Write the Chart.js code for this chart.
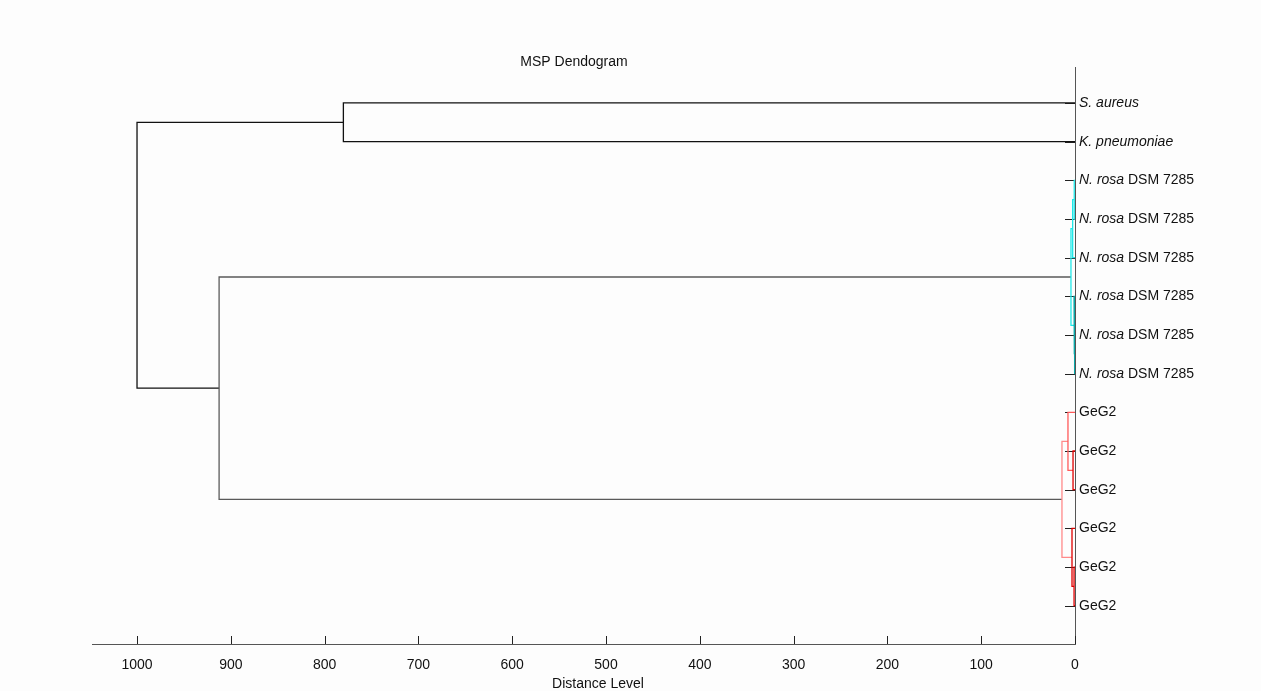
<!DOCTYPE html>
<html>
<head>
<meta charset="utf-8">
<script src="https://cdn.jsdelivr.net/npm/chart.js@4.4.1/dist/chart.umd.min.js"></script>
<style>
  html, body { margin: 0; padding: 0; background: #fdfdfd; }
  #wrap { width: 1261px; height: 691px; position: relative; }
</style>
</head>
<body>
<div id="wrap"><canvas id="c" width="1261" height="691"></canvas></div>
<script>
// ---------- DATA ----------
const chartTitle = 'MSP Dendogram';
const axisTitle = 'Distance Level';
const xTicks = [0, 100, 200, 300, 400, 500, 600, 700, 800, 900, 1000];
// leaf labels (italic part + plain part), top to bottom
const leafItalic = ['S. aureus', 'K. pneumoniae',
  'N. rosa', 'N. rosa', 'N. rosa', 'N. rosa', 'N. rosa', 'N. rosa',
  '', '', '', '', '', ''];
const leafPlain = ['', '',
  ' DSM 7285', ' DSM 7285', ' DSM 7285', ' DSM 7285', ' DSM 7285', ' DSM 7285',
  'GeG2', 'GeG2', 'GeG2', 'GeG2', 'GeG2', 'GeG2'];
// merges: node ids 0..13 are leaves, merge k creates node 14+k
const mergeLeft  = [2, 14, 6, 5, 15, 9, 8, 12, 11, 20, 0, 18, 24];
const mergeRight = [3, 4, 7, 16, 17, 10, 19, 13, 21, 22, 1, 23, 25];
const mergeDist  = [0.8, 2.5, 0.4, 1.0, 4.3, 2.1, 7.5, 1.0, 3.2, 13.9, 780, 912.5, 1000];

// ---------- STYLE ----------
const mergeColor = ['#20e8e8', '#20e8e8', '#0aa8a8', '#0aa8a8', '#20e8e8',
  '#e00000', '#ff5a5a', '#e00000', '#e00000', '#ff8a8a',
  '#111111', '#5a5a5a', '#111111'];
const FONT = '"Liberation Sans", Arial, sans-serif';

// ---------- BUILD TREE GEOMETRY ----------
const nLeaves = leafPlain.length;
const nodeY = [], nodeX = [];
for (let i = 0; i < nLeaves; i++) { nodeY.push(i); nodeX.push(0); }
const datasets = [];
for (let k = 0; k < mergeLeft.length; k++) {
  const a = mergeLeft[k], b = mergeRight[k], d = mergeDist[k];
  datasets.push({
    data: [
      { x: nodeX[a], y: nodeY[a] },
      { x: d, y: nodeY[a] },
      { x: d, y: nodeY[b] },
      { x: nodeX[b], y: nodeY[b] }
    ],
    showLine: true,
    borderColor: mergeColor[k],
    borderWidth: 1.3,
    pointRadius: 0,
    tension: 0,
    fill: false
  });
  nodeY.push((nodeY[a] + nodeY[b]) / 2);
  nodeX.push(d);
}

// ---------- DECORATION PLUGIN ----------
const deco = {
  id: 'deco',
  beforeDatasetsDraw(chart) {
    const ctx = chart.ctx, xs = chart.scales.x, ys = chart.scales.y;
    const area = chart.chartArea;
    ctx.save();
    ctx.lineWidth = 1;
    ctx.strokeStyle = '#222';
    // x tick marks pointing up
    xTicks.forEach(v => {
      const px = Math.round(xs.getPixelForValue(v)) + 0.5;
      ctx.beginPath();
      ctx.moveTo(px, area.bottom);
      ctx.lineTo(px, area.bottom - 8);
      ctx.stroke();
    });
    // leaf tick marks
    for (let i = 0; i < nLeaves; i++) {
      const py = Math.round(ys.getPixelForValue(i)) + 0.5;
      ctx.beginPath();
      ctx.moveTo(area.right - 10, py);
      ctx.lineTo(area.right, py);
      ctx.stroke();
    }
    ctx.restore();
  },
  afterDraw(chart) {
    const ctx = chart.ctx, ys = chart.scales.y;
    const area = chart.chartArea;
    ctx.save();
    ctx.fillStyle = '#111';
    ctx.textBaseline = 'middle';
    ctx.textAlign = 'left';
    for (let i = 0; i < nLeaves; i++) {
      const py = ys.getPixelForValue(i);
      let x = area.right + 4;
      if (leafItalic[i]) {
        ctx.font = 'italic 14px ' + FONT;
        ctx.fillText(leafItalic[i], x, py);
        x += ctx.measureText(leafItalic[i]).width;
      }
      if (leafPlain[i]) {
        ctx.font = '14px ' + FONT;
        ctx.fillText(leafPlain[i], x, py);
      }
    }
    ctx.textAlign = 'center';
    ctx.font = '14px ' + FONT;
    ctx.fillText(chartTitle, 574, 62);
    ctx.fillText(axisTitle, 598, 684);
    ctx.restore();
  }
};

// ---------- CHART ----------
new Chart(document.getElementById('c'), {
  type: 'scatter',
  data: { datasets },
  options: {
    responsive: false,
    animation: false,
    layout: { padding: { top: 67, left: 92, right: 0, bottom: 0 } },
    plugins: { legend: { display: false }, tooltip: { enabled: false }, title: { display: false } },
    scales: {
      x: {
        type: 'linear',
        reverse: true,
        min: 0,
        max: 1048,
        afterBuildTicks: s => { s.ticks = xTicks.map(v => ({ value: v })); },
        afterFit: s => { s.height = 47; },
        grid: { display: false },
        border: { display: true, color: '#555', width: 1 },
        ticks: { color: '#111', font: { family: FONT, size: 14 }, padding: 5, maxRotation: 0,
                 callback: v => String(v) }
      },
      y: {
        type: 'linear',
        position: 'right',
        reverse: true,
        min: -0.93,
        max: 13.99,
        afterFit: s => { s.width = 186; },
        grid: { display: false },
        border: { display: true, color: '#555', width: 1 },
        ticks: { display: false }
      }
    }
  },
  plugins: [deco]
});
</script>
</body>
</html>
